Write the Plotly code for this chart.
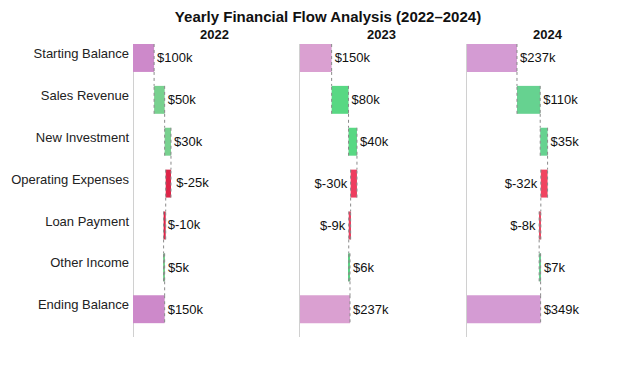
import plotly.graph_objects as go
from plotly.subplots import make_subplots

categories = ["Starting Balance", "Sales Revenue", "New Investment", "Operating Expenses",
              "Loan Payment", "Other Income", "Ending Balance"]
measures = ["absolute", "relative", "relative", "relative", "relative", "relative", "total"]
years = ["2022", "2023", "2024"]
values_2022 = [100, 50, 30, -25, -10, 5, 150]
values_2023 = [150, 80, 40, -30, -9, 6, 237]
values_2024 = [237, 110, 35, -32, -8, 7, 349]
all_values = [values_2022, values_2023, values_2024]

total_colors = ["#CD89CA", "#DAA0D1", "#D49BD3"]
inc_colors = ["#78D18F", "#58D883", "#66D290"]
dec_colors = ["#DE2448", "#EE3D5F", "#F04460"]

FONT = "Liberation Sans, Arial, sans-serif"
W, H = 640, 384
MARGIN = dict(l=125, r=19, t=36, b=55)
HSPACE = 0.01
BAR_W, BAR_OFF = 0.667, -0.227

fig = make_subplots(rows=1, cols=3, subplot_titles=[f"<b>{y}</b>" for y in years],
                    shared_yaxes=True, horizontal_spacing=HSPACE)

xmax = max(v[-1] for v in all_values) * 2.2
sub_px = (W - MARGIN["l"] - MARGIN["r"]) * (1 - 2 * HSPACE) / 3
units_per_px = xmax / sub_px
positions = list(range(len(categories)))

for i, vals in enumerate(all_values):
    labels = [f"${v}k" for v in vals]
    # running positions of every bar
    starts, ends = [], []
    run = 0
    for m, v in zip(measures, vals):
        if m == "absolute":
            starts.append(0); run = v; ends.append(run)
        elif m == "total":
            starts.append(0); ends.append(run)
        else:
            starts.append(run); run += v; ends.append(run)

    wf_text, wf_pos = [], []
    flip_x, flip_y, flip_t = [], [], []
    for k, (v, lab) in enumerate(zip(vals, labels)):
        est_w = (len(lab) * 7.3 + 4) * units_per_px
        if v < 0 and ends[k] - est_w < 0:
            wf_text.append(""); wf_pos.append("none")
            flip_x.append(starts[k] - v)
            flip_y.append(positions[k] + BAR_OFF + BAR_W / 2)
            flip_t.append(lab)
        else:
            wf_text.append(lab); wf_pos.append("outside")

    fig.add_trace(go.Waterfall(
        orientation="h",
        y=positions,
        x=vals,
        measure=measures,
        text=wf_text,
        textposition=wf_pos,
        textfont=dict(size=13, color="#111", family=FONT),
        width=BAR_W,
        offset=BAR_OFF,
        connector=dict(mode="spanning", line=dict(color="#8a8a8a", width=1, dash="dot")),
        increasing=dict(marker=dict(color=inc_colors[i])),
        decreasing=dict(marker=dict(color=dec_colors[i])),
        totals=dict(marker=dict(color=total_colors[i])),
        showlegend=False,
        hoverinfo="skip",
    ), row=1, col=i + 1)
    if flip_x:
        fig.add_trace(go.Scatter(
            x=flip_x, y=flip_y, mode="text", text=flip_t,
            textposition="middle right",
            textfont=dict(size=13, color="#111", family=FONT),
            showlegend=False, hoverinfo="skip",
        ), row=1, col=i + 1)
    fig.update_xaxes(range=[0, xmax], showticklabels=False, showgrid=False,
                     zeroline=True, zerolinecolor="#d0d0d0", zerolinewidth=1,
                     row=1, col=i + 1)

fig.update_yaxes(range=[6.77, -0.227], tickmode="array", tickvals=positions, ticktext=categories,
                 showgrid=False, zeroline=False, automargin=False, ticklabelstandoff=3,
                 tickfont=dict(size=13, color="#222", family=FONT))

for ann in fig.layout.annotations:
    ann.font = dict(size=13, color="#111", family=FONT)

fig.update_layout(
    title=dict(text="<b>Yearly Financial Flow Analysis (2022–2024)</b>", x=0.5, xanchor="center",
               y=0.978, yanchor="middle",
               font=dict(size=15, color="#111", family=FONT)),
    width=W, height=H,
    margin=MARGIN,
    plot_bgcolor="white", paper_bgcolor="white",
    font=dict(family=FONT, size=13, color="#222"),
)

fig.write_html("out.html")
